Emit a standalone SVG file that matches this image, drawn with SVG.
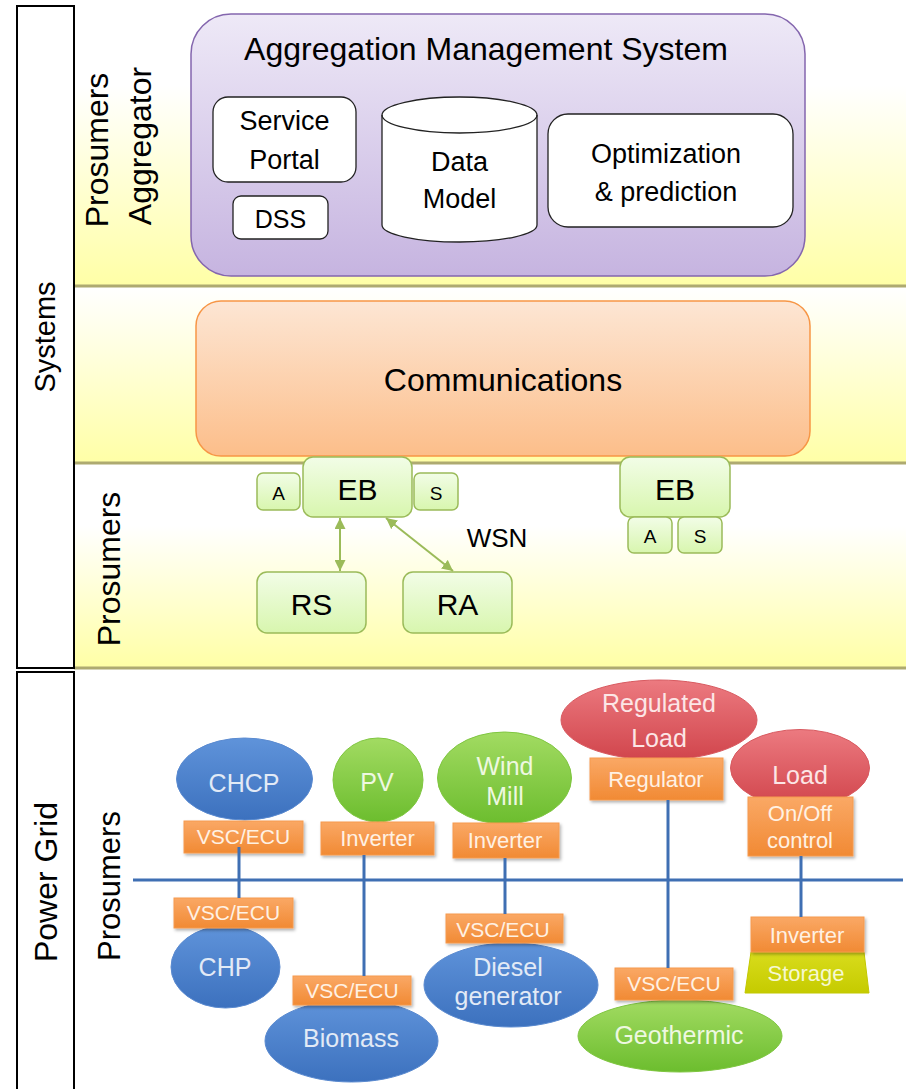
<svg xmlns="http://www.w3.org/2000/svg" width="906" height="1089" viewBox="0 0 906 1089">
<defs>
<linearGradient id="band" x1="0" y1="0" x2="0" y2="1"><stop offset="0" stop-color="#FFFFFF"/><stop offset="0.3" stop-color="#FFFFFF"/><stop offset="1" stop-color="#FFFFA6"/></linearGradient>
<linearGradient id="band2" x1="0" y1="0" x2="0" y2="1"><stop offset="0" stop-color="#FFFFFF"/><stop offset="1" stop-color="#FFFFA6"/></linearGradient>
<linearGradient id="purple" x1="0" y1="0" x2="0" y2="1"><stop offset="0" stop-color="#EEE9F7"/><stop offset="1" stop-color="#C6B4E0"/></linearGradient>
<linearGradient id="orangeBig" x1="0" y1="0" x2="0" y2="1"><stop offset="0" stop-color="#FDE6D4"/><stop offset="1" stop-color="#FCBE8A"/></linearGradient>
<linearGradient id="greenBox" x1="0" y1="0" x2="0" y2="1"><stop offset="0" stop-color="#F2FDE7"/><stop offset="1" stop-color="#D8F6AE"/></linearGradient>
<linearGradient id="blue" x1="0" y1="0" x2="0" y2="1"><stop offset="0" stop-color="#5F93DA"/><stop offset="1" stop-color="#3C71BE"/></linearGradient>
<linearGradient id="green" x1="0" y1="0" x2="0" y2="1"><stop offset="0" stop-color="#A2DB62"/><stop offset="1" stop-color="#6CBD2E"/></linearGradient>
<linearGradient id="red" x1="0" y1="0" x2="0" y2="1"><stop offset="0" stop-color="#EC7A80"/><stop offset="1" stop-color="#D1454C"/></linearGradient>
<linearGradient id="orange" x1="0" y1="0" x2="0" y2="1"><stop offset="0" stop-color="#FAA865"/><stop offset="1" stop-color="#F18A34"/></linearGradient>
<linearGradient id="storage" x1="0" y1="0" x2="0" y2="1"><stop offset="0" stop-color="#D9DC1C"/><stop offset="1" stop-color="#C5CB00"/></linearGradient>
<filter id="sh" x="-10%" y="-10%" width="130%" height="140%"><feDropShadow dx="1.5" dy="2" stdDeviation="1.5" flood-color="#000" flood-opacity="0.3"/></filter>
<marker id="ah" viewBox="0 0 10 10" refX="10" refY="5" markerWidth="11" markerHeight="11" markerUnits="userSpaceOnUse" orient="auto-start-reverse"><path d="M0,0 L10,5 L0,10 z" fill="#9BBB59"/></marker>
</defs>
<style>
text{font-family:"Liberation Sans",Arial,sans-serif;}
.t{fill:#000;text-anchor:middle;}
.lab{fill:#000;text-anchor:middle;font-size:32px;}
.sep{stroke:#AEAA70;stroke-width:3;}
.wbox{fill:#FFFFFF;stroke:#222;stroke-width:1.3;}
.gbox{fill:url(#greenBox);stroke:#9BBB59;stroke-width:1.5;}
.ob{fill:url(#orange);stroke:#F59A4E;stroke-width:1;filter:url(#sh);}
.gt{text-anchor:middle;font-size:22px;}
.et{text-anchor:middle;font-size:25px;}
.vt{text-anchor:middle;font-size:21px;}
.wt{fill:#FFF1E3;}
.bt{fill:#E2EAF6;}
.grt{fill:#EEF8E0;}
.rt{fill:#FCE6E6;}
.grid{stroke:#3F6FB3;stroke-width:3;fill:none;}
.arr{stroke:#9BBB59;stroke-width:2;fill:none;marker-start:url(#ah);marker-end:url(#ah);}
</style>

<g id="bands">
<rect x="74" y="0" width="832" height="286" fill="url(#band)"/>
<rect x="74" y="288" width="832" height="175" fill="url(#band2)"/>
<rect x="74" y="465" width="832" height="202" fill="url(#band)"/>
<rect x="74" y="669" width="832" height="420" fill="#FFFFFF"/>
<line class="sep" x1="74" y1="286" x2="906" y2="286"/>
<line class="sep" x1="74" y1="463" x2="906" y2="463"/>
<line class="sep" x1="74" y1="668" x2="906" y2="668"/>
</g>

<g id="side-systems">
<rect x="17" y="6" width="57" height="662" fill="#FFFFFF" stroke="#000" stroke-width="2"/>
<text class="lab" style="font-size:29px" transform="translate(55,337) rotate(-90)">Systems</text>
</g>
<g id="side-powergrid">
<rect x="17" y="672" width="57" height="430" fill="#FFFFFF" stroke="#000" stroke-width="2"/>
<text class="lab" transform="translate(57,882) rotate(-90)">Power Grid</text>
</g>
<g id="label-aggregator">
<text class="lab" transform="translate(108,150) rotate(-90)">Prosumers</text>
<text class="lab" transform="translate(151,146) rotate(-90)">Aggregator</text>
</g>
<g id="label-prosumers1">
<text class="lab" transform="translate(120,569) rotate(-90)">Prosumers</text>
</g>
<g id="label-prosumers2">
<text class="lab" style="font-size:31px" transform="translate(120,886) rotate(-90)">Prosumers</text>
</g>

<g id="ams">
<rect x="191" y="14" width="614" height="262" rx="40" fill="url(#purple)" stroke="#8466AE" stroke-width="1.5"/>
<text class="t" x="486" y="60" font-size="32">Aggregation Management System</text>
</g>
<g id="service-portal">
<rect class="wbox" x="213" y="97" width="143" height="85" rx="15"/>
<text class="t" x="284.5" y="130" font-size="27">Service</text>
<text class="t" x="284.5" y="169" font-size="27">Portal</text>
</g>
<g id="dss">
<rect class="wbox" x="233" y="196" width="95" height="43" rx="8"/>
<text class="t" x="280.5" y="228" font-size="25">DSS</text>
</g>
<g id="data-model">
<path class="wbox" d="M382,115 A77.5,18 0 0 1 537,115 L537,225 A77.5,17 0 0 1 382,225 Z"/>
<path d="M382,115 A77.5,18 0 0 0 537,115" fill="none" stroke="#222" stroke-width="1.3"/>
<text class="t" x="459.5" y="171" font-size="27">Data</text>
<text class="t" x="459.5" y="208" font-size="27">Model</text>
</g>
<g id="optimization">
<rect class="wbox" x="548" y="114" width="245" height="113" rx="20"/>
<text class="t" x="666" y="163" font-size="27">Optimization</text>
<text class="t" x="666" y="201" font-size="27">&amp; prediction</text>
</g>

<g id="communications">
<rect x="196" y="301" width="614" height="155" rx="25" fill="url(#orangeBig)" stroke="#F79646" stroke-width="1.5"/>
<text class="t" x="503" y="391" font-size="32">Communications</text>
</g>

<g id="eb1">
<rect class="gbox" x="303" y="457" width="109" height="60" rx="10"/>
<text class="t" x="357.5" y="500" font-size="30">EB</text>
</g>
<g id="a1">
<rect class="gbox" x="257" y="473" width="43" height="37" rx="6"/>
<text class="t" x="278.5" y="500" font-size="19">A</text>
</g>
<g id="s1">
<rect class="gbox" x="414" y="473" width="44" height="37" rx="6"/>
<text class="t" x="436" y="500" font-size="19">S</text>
</g>
<g id="rs">
<rect class="gbox" x="257" y="572" width="109" height="61" rx="10"/>
<text class="t" x="311.5" y="615" font-size="30">RS</text>
</g>
<g id="ra">
<rect class="gbox" x="403" y="572" width="109" height="61" rx="10"/>
<text class="t" x="457.5" y="615" font-size="30">RA</text>
</g>
<g id="wsn">
<text class="t" x="497" y="547" font-size="26">WSN</text>
</g>
<g id="eb2">
<rect class="gbox" x="620" y="457" width="110" height="60" rx="10"/>
<text class="t" x="675" y="500" font-size="30">EB</text>
</g>
<g id="a2">
<rect class="gbox" x="628" y="517" width="44" height="36" rx="6"/>
<text class="t" x="650" y="543" font-size="19">A</text>
</g>
<g id="s2">
<rect class="gbox" x="678" y="517" width="44" height="36" rx="6"/>
<text class="t" x="700" y="543" font-size="19">S</text>
</g>

<g id="chcp">
<ellipse cx="244.5" cy="779" rx="68" ry="41" fill="url(#blue)" stroke="#5A8AD0" stroke-width="1"/>
<text class="et bt" x="244" y="792">CHCP</text>
</g>
<g id="vsc-chcp">
<rect class="ob" x="184" y="821" width="119" height="32"/>
<text class="vt wt" x="243.5" y="844">VSC/ECU</text>
</g>
<g id="chp">
<ellipse cx="225.5" cy="967" rx="54.5" ry="41" fill="url(#blue)" stroke="#5A8AD0" stroke-width="1"/>
<text class="et bt" x="225" y="976">CHP</text>
</g>
<g id="vsc-chp">
<rect class="ob" x="174" y="898" width="119" height="30"/>
<text class="vt wt" x="233.5" y="920">VSC/ECU</text>
</g>

<g id="pv">
<ellipse cx="378" cy="780" rx="45" ry="42" fill="url(#green)" stroke="#7FC640" stroke-width="1"/>
<text class="et grt" x="377" y="791">PV</text>
</g>
<g id="inv-pv">
<rect class="ob" x="321" y="822" width="113" height="33"/>
<text class="gt wt" x="377.5" y="846">Inverter</text>
</g>
<g id="biomass">
<ellipse cx="351.5" cy="1041" rx="86.5" ry="41" fill="url(#blue)" stroke="#5A8AD0" stroke-width="1"/>
<text class="et bt" x="351" y="1047">Biomass</text>
</g>
<g id="vsc-biomass">
<rect class="ob" x="293" y="976" width="118" height="29"/>
<text class="vt wt" x="352" y="998">VSC/ECU</text>
</g>

<g id="windmill">
<ellipse cx="504.5" cy="778" rx="67" ry="46" fill="url(#green)" stroke="#7FC640" stroke-width="1"/>
<text class="et grt" x="505" y="775">Wind</text>
<text class="et grt" x="505" y="805">Mill</text>
</g>
<g id="inv-wind">
<rect class="ob" x="453" y="823" width="106" height="35"/>
<text class="gt wt" x="505" y="848">Inverter</text>
</g>
<g id="diesel">
<ellipse cx="511" cy="985" rx="87" ry="42" fill="url(#blue)" stroke="#5A8AD0" stroke-width="1"/>
<text class="et bt" x="508" y="976">Diesel</text>
<text class="et bt" x="508" y="1005">generator</text>
</g>
<g id="vsc-diesel">
<rect class="ob" x="446" y="914" width="117" height="29"/>
<text class="vt wt" x="503" y="937">VSC/ECU</text>
</g>

<g id="regulated-load">
<ellipse cx="659" cy="720" rx="98" ry="40" fill="url(#red)" stroke="#D85A60" stroke-width="1"/>
<text class="et rt" x="659" y="712">Regulated</text>
<text class="et rt" x="659" y="747">Load</text>
</g>
<g id="regulator">
<rect class="ob" x="590" y="758" width="133" height="42"/>
<text class="gt wt" x="656" y="787">Regulator</text>
</g>
<g id="geothermic">
<ellipse cx="680" cy="1036" rx="102" ry="36" fill="url(#green)" stroke="#7FC640" stroke-width="1"/>
<text class="et grt" x="679" y="1044">Geothermic</text>
</g>
<g id="vsc-geo">
<rect class="ob" x="615" y="968" width="118" height="32"/>
<text class="vt wt" x="674" y="991">VSC/ECU</text>
</g>

<g id="load">
<ellipse cx="800" cy="768" rx="69.5" ry="38.5" fill="url(#red)" stroke="#D85A60" stroke-width="1"/>
<text class="et rt" x="800" y="784">Load</text>
</g>
<g id="onoff">
<rect class="ob" x="748" y="797" width="105" height="59"/>
<text class="gt wt" x="800" y="821">On/Off</text>
<text class="gt wt" x="800" y="848">control</text>
</g>
<g id="storage-node">
<polygon points="751,952 864,952 869,993 745,993" fill="url(#storage)" stroke="#C2C800" stroke-width="1"/>
<text class="gt" fill="#F6F8D0" x="806" y="981">Storage</text>
</g>
<g id="inv-storage">
<rect class="ob" x="751" y="917" width="113" height="35"/>
<text class="gt wt" x="807" y="943">Inverter</text>
</g>

<g id="connectors">
<line class="arr" x1="340" y1="518" x2="340" y2="571"/>
<line class="arr" x1="386" y1="518" x2="453" y2="571"/>
<line class="grid" x1="133" y1="880" x2="903" y2="880"/>
<line class="grid" x1="239" y1="847" x2="239" y2="898"/>
<line class="grid" x1="364" y1="855" x2="364" y2="976"/>
<line class="grid" x1="505" y1="858" x2="505" y2="914"/>
<line class="grid" x1="668" y1="800" x2="668" y2="968"/>
<line class="grid" x1="801" y1="856" x2="801" y2="917"/>
</g>
</svg>
